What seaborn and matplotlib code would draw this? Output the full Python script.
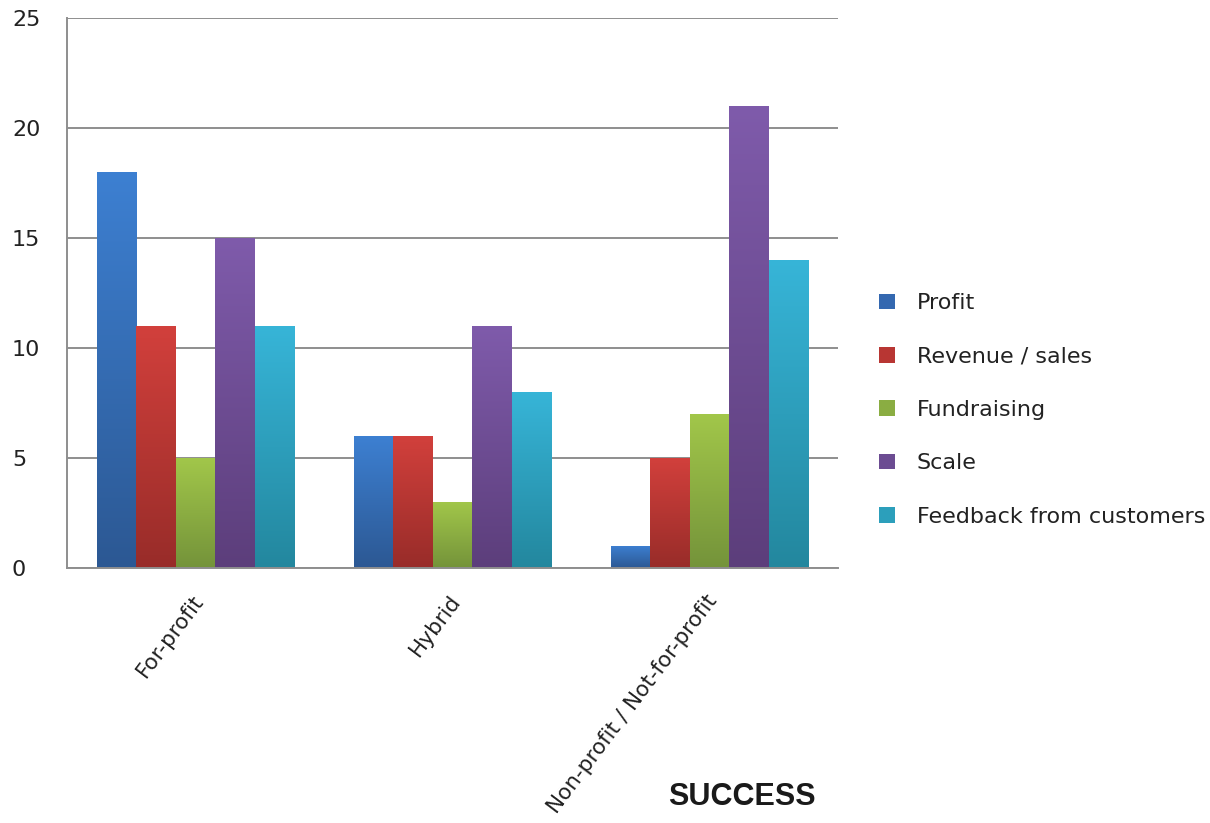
import numpy as np
import pandas as pd
import matplotlib
matplotlib.use("Agg")
import matplotlib.pyplot as plt
from matplotlib.patches import Patch
from matplotlib.colors import LinearSegmentedColormap
from matplotlib.transforms import ScaledTranslation
import seaborn as sns

categories = ["For-profit", "Hybrid", "Non-profit / Not-for-profit"]
series = ["Profit", "Revenue / sales", "Fundraising", "Scale", "Feedback from customers"]
profit = [18, 6, 1]
revenue_sales = [11, 6, 5]
fundraising = [5, 3, 7]
scale = [15, 11, 21]
feedback = [11, 8, 14]
y_ticks = [0, 5, 10, 15, 20, 25]

# light (top) and dark (bottom) shade of each series
top_colors = ["#3d80d2", "#d2403c", "#a2c74a", "#7f5bab", "#37b5d8"]
bottom_colors = ["#2c5893", "#982c29", "#74933a", "#5c3e7b", "#23879e"]
mid_colors = ["#3468b0", "#b83633", "#8aad42", "#6c4c92", "#2c9fbb"]

values = [profit, revenue_sales, fundraising, scale, feedback]
df = pd.DataFrame(
    [(c, s, v[i]) for s, v in zip(series, values) for i, c in enumerate(categories)],
    columns=["category", "series", "value"],
)

sns.set_style("white")
plt.rcParams["font.family"] = ["DejaVu Sans"]

fig = plt.figure(figsize=(12.1, 8.23), dpi=100)
ax = fig.add_axes([67 / 1210, 1 - 568 / 823, (838 - 67) / 1210, 550 / 823])

sns.barplot(
    data=df, x="category", y="value", hue="series",
    order=categories, hue_order=series, palette=mid_colors,
    width=0.77, legend=False, ax=ax, saturation=1,
)

# vertical gradient fill clipped to each bar
n_cat = len(categories)
for idx, patch in enumerate(list(ax.patches)):
    s_idx = idx // n_cat
    x0, y0 = patch.get_x(), patch.get_y()
    w, h = patch.get_width(), patch.get_height()
    if h <= 0:
        continue
    cmap = LinearSegmentedColormap.from_list(
        "g", [bottom_colors[s_idx], top_colors[s_idx]])
    grad = np.linspace(0, 1, 256).reshape(-1, 1)
    im = ax.imshow(grad, extent=[x0, x0 + w, y0, y0 + h], origin="lower",
                   aspect="auto", cmap=cmap, zorder=patch.get_zorder() + 0.1,
                   interpolation="bilinear")
    im.set_clip_path(patch)
    patch.set_edgecolor("none")

ax.set_xlim(-0.5, n_cat - 0.5)
ax.set_ylim(0, 25)
ax.set_yticks(y_ticks)
ax.set_yticklabels([str(t) for t in y_ticks])
ax.yaxis.grid(True, color="#8e8e8e", linewidth=1.4)
ax.set_axisbelow(True)

ax.set_xticks(np.arange(-0.5, n_cat, 1.0))
ax.set_xticklabels([])
ax.set_xticks(np.arange(n_cat), minor=True)
ax.set_xticklabels(categories, minor=True, rotation=53, ha="right",
                   rotation_mode="anchor", fontsize=15.5, color="#222222")
ax.tick_params(axis="x", which="minor", length=0, pad=13)
ax.tick_params(axis="x", which="major", length=7.2, width=1.4, color="#8e8e8e",
               direction="out")
ax.tick_params(axis="y", length=7.2, width=1.4, color="#8e8e8e", direction="out",
               labelsize=16, labelcolor="#222222", pad=32.4)
for lab in ax.get_yticklabels():
    lab.set_ha("left")
# nudge the slanted category labels slightly left and down
shift = ScaledTranslation(-4 / 100, -5 / 100, fig.dpi_scale_trans)
for lab in ax.get_xticklabels(minor=True):
    lab.set_transform(lab.get_transform() + shift)

ax.set_xlabel("")
ax.set_ylabel("")
for side in ["top", "right"]:
    ax.spines[side].set_visible(False)
for side in ["left", "bottom"]:
    ax.spines[side].set_color("#8e8e8e")
    ax.spines[side].set_linewidth(1.4)

handles = [Patch(facecolor=c, edgecolor="none") for c in mid_colors]
fig.legend(handles, series, loc="center left",
           bbox_to_anchor=(859 / 1210, 1 - 410 / 823), frameon=False,
           fontsize=16, handlelength=0.7, handleheight=0.7,
           handletextpad=1.0, labelspacing=1.5, labelcolor="#222222")

fig.text(742 / 1210, 1 - 797 / 823, "SUCCESS", ha="center", va="center",
         fontsize=22, fontweight="bold", color="#1a1a1a",
         family=["Liberation Sans Narrow", "Liberation Sans", "DejaVu Sans"])

fig.savefig("out.png", dpi=100)
